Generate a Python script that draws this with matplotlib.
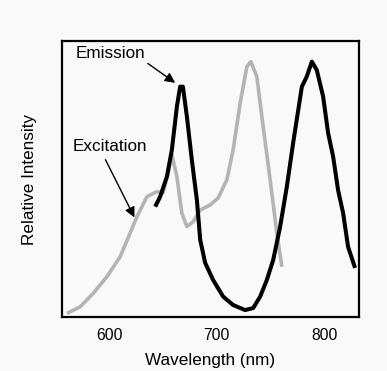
import matplotlib.pyplot as plt

plt.rcParams["font.family"] = ["Liberation Sans", "DejaVu Sans"]

# Espectro de excitación (gris) y emisión (negro), intensidad relativa
exc_nm = [560.7, 573, 585.4, 597.9, 610.2, 619.5, 625.8, 635.1, 644.4, 650.2,
          654.9, 658.3, 663, 667.6, 672.3, 678.1, 684.7, 694, 701.4, 709.5,
          715.3, 721.9, 728.1, 731.8, 737.4, 743.3, 749.8, 756, 760.7]
exc_int = [0.014, 0.04, 0.094, 0.158, 0.236, 0.329, 0.393, 0.471, 0.491, 0.486,
           0.564, 0.635, 0.55, 0.407, 0.354, 0.373, 0.419, 0.439, 0.466, 0.537,
           0.654, 0.838, 0.98, 1.0, 0.941, 0.745, 0.537, 0.329, 0.197]

emi_nm = [642.8, 647.4, 653.7, 658.3, 663, 666, 668.6, 672.3, 676.9, 681.6,
          684.7, 689.3, 696.7, 706, 715.3, 726.5, 734, 740.5, 746.7, 752.6,
          759.1, 765.3, 771.2, 779.3, 783.8, 788.6, 793.2, 799.1, 803.7, 808.4,
          813, 817.7, 822.3, 828.8]
emi_int = [0.432, 0.471, 0.55, 0.654, 0.824, 0.902, 0.902, 0.785, 0.615, 0.458,
           0.302, 0.212, 0.145, 0.080, 0.047, 0.027, 0.035, 0.080, 0.145, 0.223,
           0.354, 0.51, 0.682, 0.902, 0.941, 1.0, 0.967, 0.863, 0.721, 0.628,
           0.497, 0.407, 0.275, 0.192]

xticks = [600, 700, 800]

fig = plt.figure(figsize=(3.87, 3.71), dpi=100, facecolor="#f9f9f9")
ax = fig.add_axes([0.160, 0.1456, 0.768, 0.744], facecolor="#f9f9f9")

ax.plot(exc_nm, exc_int, color="#b4b4b4", linewidth=2.6, solid_capstyle="butt")
ax.plot(emi_nm, emi_int, color="black", linewidth=2.9, solid_capstyle="butt")

ax.annotate("Emission", xy=(661.4, 0.917), xytext=(601, 1.03),
            ha="center", va="center", fontsize=12.3,
            arrowprops=dict(arrowstyle="-|>", color="black", lw=1,
                            mutation_scale=15, relpos=(1.0, 0.0),
                            shrinkA=0, shrinkB=0))
ax.annotate("Excitation", xy=(623.5, 0.39), xytext=(601, 0.666),
            ha="center", va="center", fontsize=12.3,
            arrowprops=dict(arrowstyle="-|>", color="black", lw=1,
                            mutation_scale=15, relpos=(0.4, 0.0),
                            shrinkA=2, shrinkB=0))

ax.set_xlim(556, 832.6)
ax.set_ylim(0, 1.081)
ax.set_xticks(xticks)
ax.set_yticks([])
ax.tick_params(axis="x", length=0, pad=8, labelsize=11.3)
for s in ax.spines.values():
    s.set_linewidth(1.6)

ax.set_xlabel("Wavelength (nm)", fontsize=12.3, labelpad=7)
ax.set_ylabel("Relative Intensity", fontsize=12.3, labelpad=18)

plt.savefig("out.png", dpi=100, facecolor=fig.get_facecolor())
